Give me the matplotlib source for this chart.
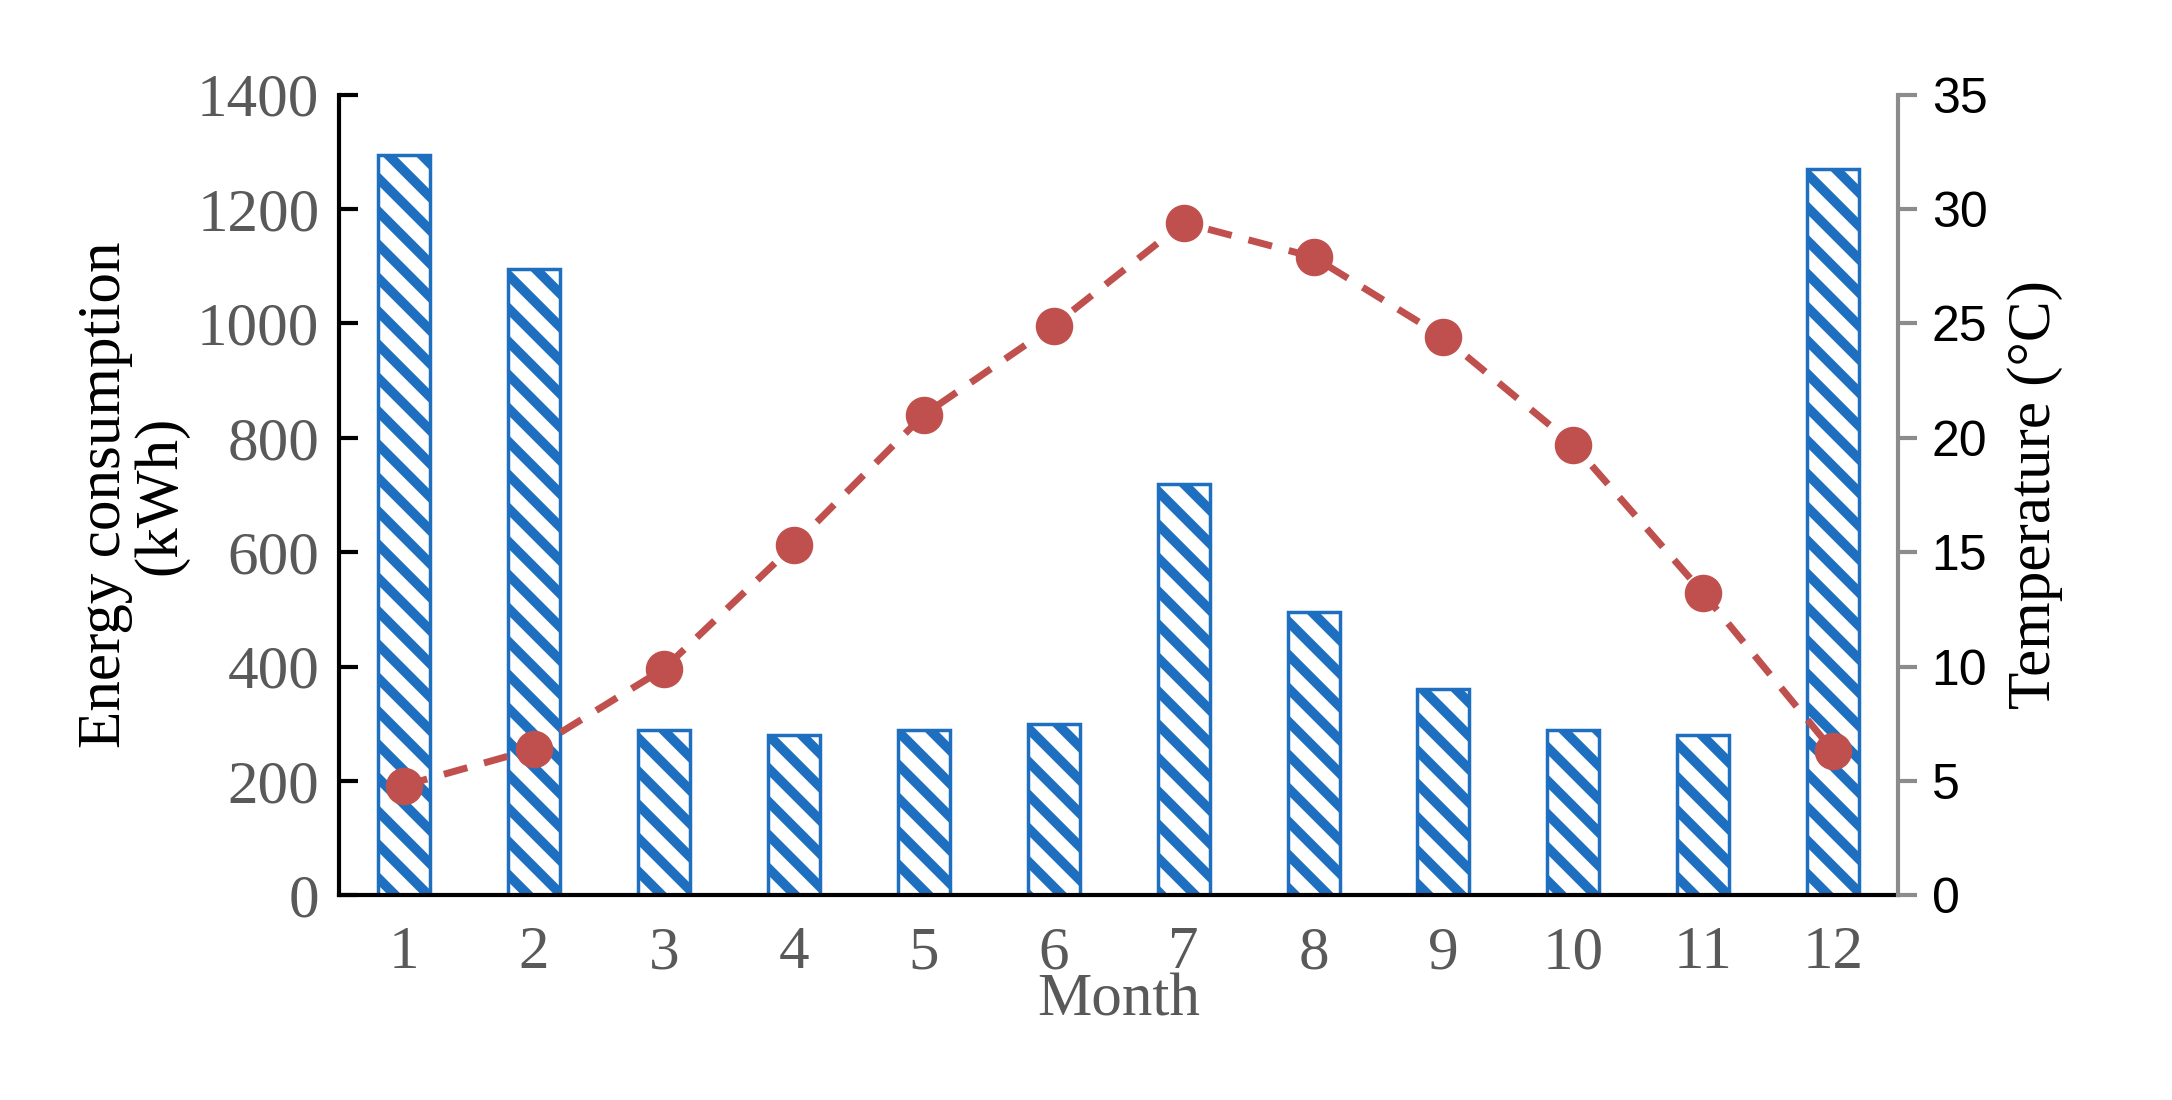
import matplotlib
matplotlib.use("Agg")
import matplotlib.pyplot as plt
import numpy as np

months = [1,2,3,4,5,6,7,8,9,10,11,12]
energy = [1295,1095,290,280,290,300,720,495,360,290,280,1270]
temp = [4.8,6.4,9.9,15.3,21.0,24.9,29.4,27.9,24.4,19.7,13.2,6.3]

plt.rcParams['hatch.linewidth'] = 7
plt.rcParams['hatch.color'] = '#4a86c8'
fig = plt.figure(figsize=(21.72, 11), dpi=100)
ax = fig.add_axes([0.156, 0.186, 0.718, 0.728])
x = np.arange(len(months))
ax.bar(x, energy, width=0.4, facecolor='white', edgecolor='#1f6fc0', hatch='\\', linewidth=2.5, zorder=2)
ax.set_ylim(0, 1400)
ax.set_xlim(-0.5, 11.5)
ax.set_yticks(range(0, 1401, 200))
ax.set_xticks(x)
ax.set_xticklabels([str(m) for m in months])
serif = 'Liberation Serif'
for lbl in ax.get_xticklabels() + ax.get_yticklabels():
    lbl.set_fontfamily(serif); lbl.set_fontsize(44); lbl.set_color('#595959')
ax.tick_params(axis='y', direction='in', length=14, width=3, pad=14)
ax.tick_params(axis='x', length=0, pad=22)
ax.spines['top'].set_visible(False)
ax.spines['right'].set_visible(False)
ax.spines['left'].set_linewidth(3)
ax.spines['bottom'].set_linewidth(3)
ax.set_xlabel('Month', fontfamily=serif, fontsize=44, color='#595959', labelpad=-6)
ax.set_ylabel('Energy consumption\n(kWh)', fontfamily=serif, fontsize=44, linespacing=1.0, labelpad=6)

ax2 = ax.twinx()
ax2.plot(x, temp, color='#c0504d', linestyle=(0, (3.5, 2.5)), linewidth=5, marker='o', markersize=26, zorder=3)
ax2.set_ylim(0, 35)
ax2.set_yticks(range(0, 36, 5))
ax2.tick_params(axis='y', direction='out', length=14, width=3, color='#8c8c8c', labelsize=36, pad=10)
for lbl in ax2.get_yticklabels():
    lbl.set_fontfamily('Liberation Sans')
for s in ['top', 'left', 'bottom']:
    ax2.spines[s].set_visible(False)
ax2.spines['right'].set_color('#8c8c8c')
ax2.spines['right'].set_linewidth(3)
ax2.set_ylabel('Temperature (°C)', fontfamily=serif, fontsize=44, labelpad=14)
fig.savefig('out.png', dpi=100)
